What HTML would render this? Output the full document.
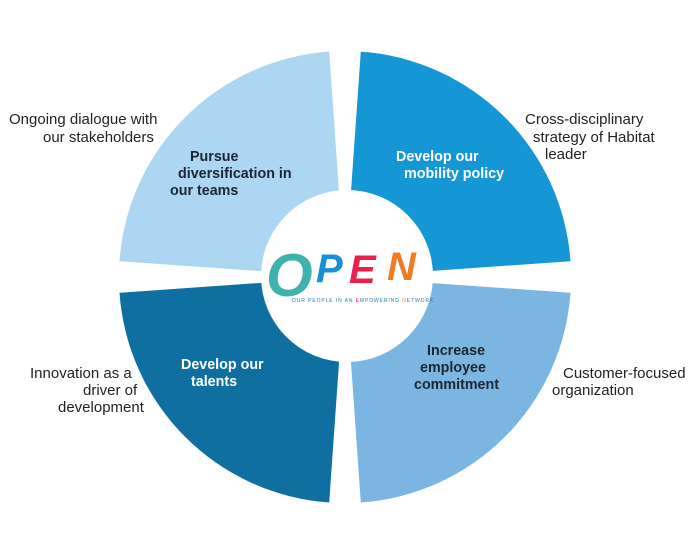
<!DOCTYPE html>
<html><head><meta charset="utf-8"><style>
body{margin:0;background:#fff;}
svg{display:block;font-family:"Liberation Sans",sans-serif;}
.o{font-size:15px;fill:#222;}
.i{font-size:14.3px;font-weight:bold;}
</style></head><body>
<svg width="694" height="550" viewBox="0 0 694 550">
<path d="M345,277 L360.8,51.6 A226,226 0 0 1 570.5,261.2 Z" fill="#1597d5"/>
<path d="M345,277 L570.5,292.8 A226,226 0 0 1 360.8,502.5 Z" fill="#7bb6e2"/>
<path d="M345,277 L329.2,502.5 A226,226 0 0 1 119.5,292.8 Z" fill="#106fa1"/>
<path d="M345,277 L119.5,261.2 A226,226 0 0 1 329.2,51.6 Z" fill="#acd6f1"/>
<circle cx="347" cy="276" r="86" fill="#fff"/>
<g font-family="Liberation Sans, sans-serif" font-weight="bold" font-style="italic">
<text x="266" y="296" font-size="60" fill="#3fb2ae">O</text>
<text x="316" y="282" font-size="40" fill="#1a8fd6">P</text>
<text x="349" y="283" font-size="40" fill="#e8204a">E</text>
<text x="387" y="280" font-size="40" fill="#f07b22">N</text>
</g>
<text x="292" y="302" font-size="5" letter-spacing="0.9" fill="#2a7ab0">OUR PEOPLE IN AN <tspan fill="#e8204a">E</tspan>MPOWERING <tspan fill="#f07b22">N</tspan>ETWORK</text>
<g class="o">
<text x="9" y="124">Ongoing dialogue with</text>
<text x="43" y="142">our stakeholders</text>
<text x="525" y="124">Cross-disciplinary</text>
<text x="533" y="142">strategy of Habitat</text>
<text x="545" y="159">leader</text>
<text x="563" y="378">Customer-focused</text>
<text x="552" y="395">organization</text>
<text x="30" y="378">Innovation as a</text>
<text x="83" y="395">driver of</text>
<text x="58" y="412">development</text>
</g>
<g class="i" fill="#1c2633">
<text x="190" y="161">Pursue</text>
<text x="178" y="178">diversification in</text>
<text x="170" y="195">our teams</text>
<text x="427" y="355">Increase</text>
<text x="420" y="372">employee</text>
<text x="414" y="389">commitment</text>
</g>
<g class="i" fill="#fff">
<text x="396" y="161">Develop our</text>
<text x="404" y="178">mobility policy</text>
<text x="181" y="369">Develop our</text>
<text x="191" y="386">talents</text>
</g>
</svg>
</body></html>
